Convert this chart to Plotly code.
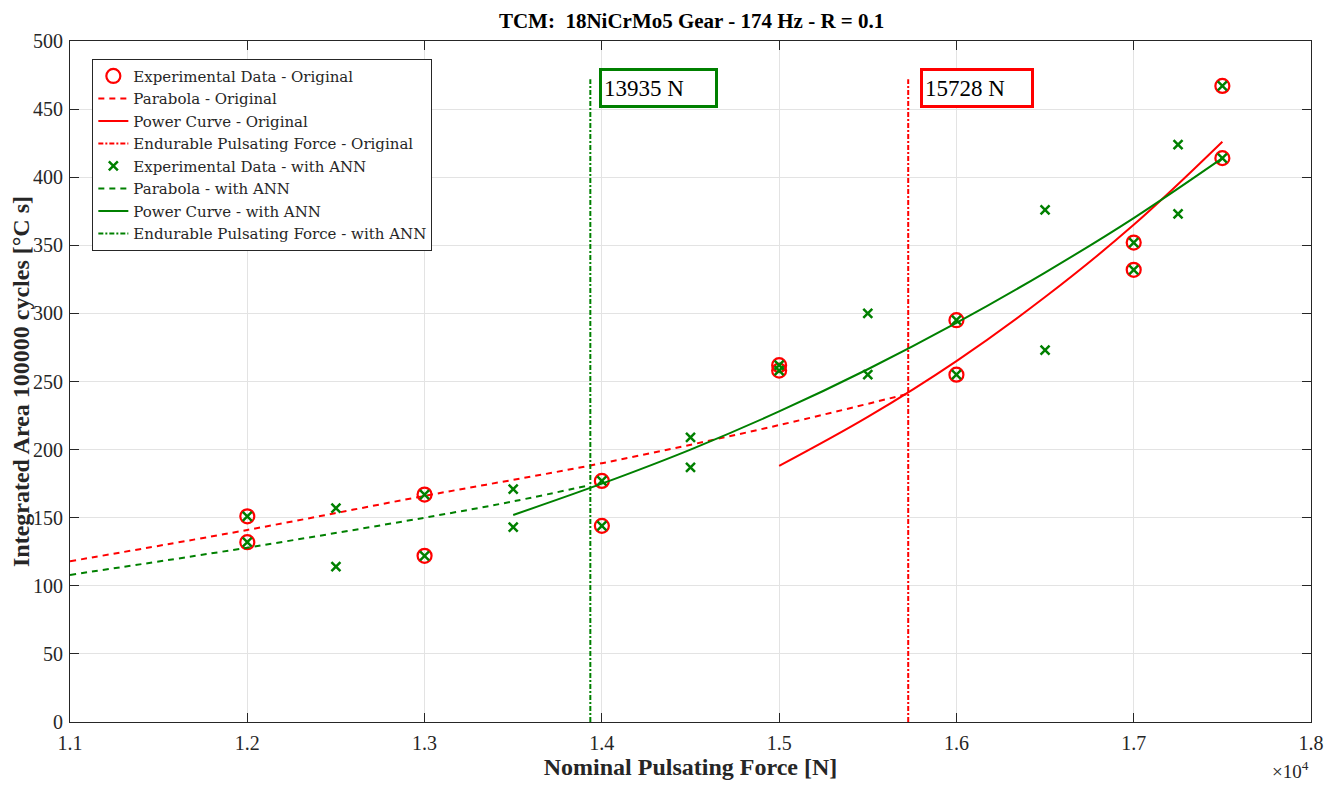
import plotly.graph_objects as go

# ---------------- data ----------------
orig_x = [12000, 12000, 13000, 13000, 14000, 14000, 15000, 15000,
          16000, 16000, 17000, 17000, 17500, 17500]
orig_y = [151, 132, 167, 122, 177, 144, 262, 258, 295, 255, 352, 332, 467, 414]

ann_extra_x = [12500, 12500, 13500, 13500, 14500, 14500, 15500, 15500,
               16500, 16500, 17250, 17250]
ann_extra_y = [157, 114, 171, 143, 209, 187, 300, 255, 376, 273, 424, 373]

ann_x = orig_x + ann_extra_x
ann_y = orig_y + ann_extra_y

par_orig_x = [11000, 12000, 13000, 14000, 15000, 15728]
par_orig_y = [118, 141, 166, 190, 218, 241]

pow_orig_x = [15000, 15500, 16000, 16500, 17000, 17500]
pow_orig_y = [188, 224, 265, 312, 365, 426]

par_ann_x = [11000, 12000, 13000, 13500, 13935]
par_ann_y = [108, 128, 150, 162, 174]

pow_ann_x = [13500, 14000, 14500, 15000, 15500, 16000, 16500, 17000, 17500]
pow_ann_y = [152, 175, 200, 228, 259, 293, 330, 370, 414]

epf_orig = 15728
epf_ann = 13935
epf_y = [0, 472]

x_ticks = [11000, 12000, 13000, 14000, 15000, 16000, 17000, 18000]
x_tick_labels = ["1.1", "1.2", "1.3", "1.4", "1.5", "1.6", "1.7", "1.8"]

RED = "#ff0000"
GREEN = "#008000"
FONT = "Liberation Serif"
LEG_FONT = "DejaVu Serif"

fig = go.Figure()

fig.add_trace(go.Scatter(x=orig_x, y=orig_y, mode="markers",
                         name="Experimental Data - Original",
                         marker=dict(symbol="circle-open", size=14, color=RED,
                                     line=dict(width=2.2, color=RED))))
fig.add_trace(go.Scatter(x=par_orig_x, y=par_orig_y, mode="lines",
                         name="Parabola - Original", line_shape="spline",
                         line=dict(color=RED, width=2, dash="6px,5px")))
fig.add_trace(go.Scatter(x=pow_orig_x, y=pow_orig_y, mode="lines",
                         name="Power Curve - Original", line_shape="spline",
                         line=dict(color=RED, width=2)))
fig.add_trace(go.Scatter(x=[epf_orig, epf_orig], y=epf_y, mode="lines",
                         name="Endurable Pulsating Force - Original",
                         line=dict(color=RED, width=2, dash="5px,2px,2px,2px")))
fig.add_trace(go.Scatter(x=ann_x, y=ann_y, mode="markers",
                         name="Experimental Data - with ANN",
                         marker=dict(symbol="x-thin", size=9, color=GREEN,
                                     line=dict(width=2.5, color=GREEN))))
fig.add_trace(go.Scatter(x=par_ann_x, y=par_ann_y, mode="lines",
                         name="Parabola - with ANN", line_shape="spline",
                         line=dict(color=GREEN, width=2, dash="6px,5px")))
fig.add_trace(go.Scatter(x=pow_ann_x, y=pow_ann_y, mode="lines",
                         name="Power Curve - with ANN", line_shape="spline",
                         line=dict(color=GREEN, width=2)))
fig.add_trace(go.Scatter(x=[epf_ann, epf_ann], y=epf_y, mode="lines",
                         name="Endurable Pulsating Force - with ANN",
                         line=dict(color=GREEN, width=2, dash="5px,2px,2px,2px")))

fig.add_annotation(x=13984, y=480, xref="x", yref="y", xanchor="left", yanchor="top",
                   text="13935 N", showarrow=False, align="left",
                   width=109, height=30, borderpad=2,
                   font=dict(family=FONT, size=23, color="black"),
                   bordercolor=GREEN, borderwidth=3, bgcolor="white")
fig.add_annotation(x=15797, y=480, xref="x", yref="y", xanchor="left", yanchor="top",
                   text="15728 N", showarrow=False, align="left",
                   width=104, height=30, borderpad=2,
                   font=dict(family=FONT, size=23, color="black"),
                   bordercolor=RED, borderwidth=3, bgcolor="white")
fig.add_annotation(x=1.0, y=-0.05, xref="paper", yref="paper", xanchor="right", yanchor="top",
                   text="×10<sup>4</sup>", showarrow=False,
                   font=dict(family=FONT, size=19, color="#262626"))

axis_common = dict(showline=True, linecolor="#262626", linewidth=1, mirror="ticks",
                   ticks="inside", ticklen=9, tickcolor="#262626",
                   showgrid=True, gridcolor="#e3e3e3", gridwidth=1, zeroline=False,
                   tickfont=dict(family=FONT, size=20, color="#262626"))

fig.update_layout(
    width=1330, height=777,
    margin=dict(l=62, r=27, t=33, b=63, autoexpand=False),
    paper_bgcolor="white", plot_bgcolor="white",
    title=dict(text="<b>TCM:  18NiCrMo5 Gear - 174 Hz - R = 0.1</b>", x=0.514, xanchor="center",
               y=0.984, yanchor="middle",
               font=dict(family=FONT, size=21, color="black")),
    xaxis=dict(range=[11000, 18000], tickvals=x_ticks, ticktext=x_tick_labels,
               ticklabelstandoff=3,
               title=dict(text="<b>Nominal Pulsating Force [N]</b>", standoff=2,
                          font=dict(family=FONT, size=24, color="#262626")),
               **axis_common),
    yaxis=dict(range=[0, 500], dtick=50, ticklabelstandoff=2,
               title=dict(text="<b>Integrated Area 100000 cycles [°C s]</b>", standoff=4,
                          font=dict(family=FONT, size=24, color="#262626")),
               **axis_common),
    legend=dict(x=0.018, y=0.974, xanchor="left", yanchor="top",
                bgcolor="white", bordercolor="#262626", borderwidth=1,
                font=dict(family=LEG_FONT, size=15, color="#262626"),
                tracegroupgap=0, itemwidth=30),
    showlegend=True,
)

fig.write_html("out.html")
